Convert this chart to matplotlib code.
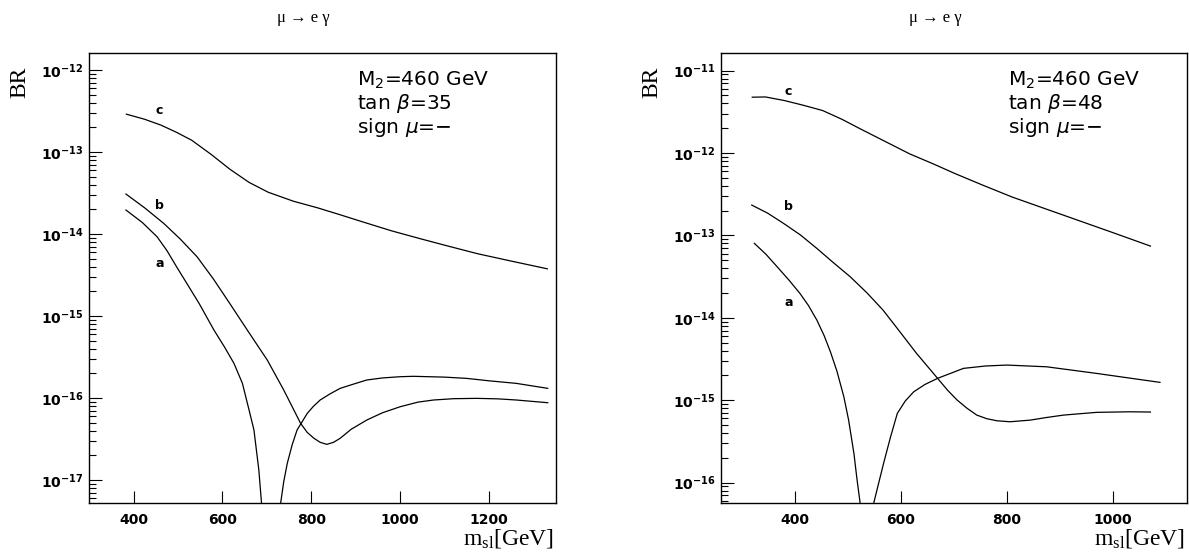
import numpy as np
import matplotlib
matplotlib.use('Agg')
import matplotlib.pyplot as plt
from matplotlib.ticker import LogLocator, NullLocator, NullFormatter, FuncFormatter, FixedLocator

plt.rcParams['mathtext.fontset'] = 'custom'
plt.rcParams['mathtext.rm'] = 'Liberation Serif'
plt.rcParams['mathtext.it'] = 'DejaVu Sans:italic'
plt.rcParams['mathtext.bf'] = 'DejaVu Sans:bold'
plt.rcParams['mathtext.sf'] = 'DejaVu Sans'

# values, as log10(BR)
# ---- left panel: tan beta = 35 ----
xc1 = [384, 425, 462, 497, 531, 575, 617, 660, 703, 760, 814, 865, 917, 980, 1046, 1110, 1175, 1250, 1331]
lc1 = [-12.538, -12.60, -12.672, -12.76, -12.856, -13.03, -13.21, -13.37, -13.49, -13.60, -13.68,
       -13.765, -13.854, -13.96, -14.058, -14.15, -14.241, -14.33, -14.424]

xb1 = [383, 425, 468, 505, 543, 580, 617, 656, 701, 738, 776, 791, 806, 820, 835, 850, 865, 890,
       925, 960, 1000, 1040, 1075, 1120, 1172, 1220, 1261, 1332]
lb1 = [-13.512, -13.68, -13.87, -14.06, -14.277, -14.55, -14.85, -15.171, -15.537, -15.902, -16.309,
       -16.42, -16.491, -16.54, -16.565, -16.54, -16.491, -16.38, -16.268, -16.18, -16.106, -16.05,
       -16.024, -16.008, -16.004, -16.01, -16.024, -16.057]

xa1_lo = [383, 420, 453, 475, 497, 522, 548, 581, 605, 626, 645, 660, 671, 682, 688, 692]
la1_lo = [-13.707, -13.86, -14.033, -14.2, -14.40, -14.62, -14.85, -15.171, -15.38, -15.577, -15.82,
          -16.146, -16.39, -16.878, -17.28, -18.0]
xa1_hi = [727, 731, 738, 746, 757, 768, 791, 805, 820, 842, 865, 895, 925, 960, 1000, 1030, 1100,
          1149, 1200, 1261, 1332]
la1_hi = [-18.0, -17.284, -17.02, -16.796, -16.57, -16.39, -16.187, -16.10, -16.024, -15.95, -15.882,
          -15.83, -15.78, -15.755, -15.74, -15.735, -15.745, -15.76, -15.79, -15.821, -15.882]

# ---- right panel: tan beta = 48 ----
xc2 = [319, 344, 380, 415, 452, 488, 523, 570, 616, 660, 702, 756, 810, 865, 917, 995, 1071]
lc2 = [-11.323, -11.32, -11.364, -11.42, -11.485, -11.59, -11.707, -11.86, -12.01, -12.13, -12.25,
       -12.395, -12.535, -12.66, -12.778, -12.955, -13.13]

xb2 = [318, 348, 378, 410, 441, 472, 504, 536, 566, 593, 629, 669, 688, 706, 725, 743, 762, 781,
       806, 844, 875, 907, 969, 1032, 1071]
lb2 = [-12.632, -12.73, -12.854, -12.995, -13.158, -13.33, -13.502, -13.70, -13.907, -14.13, -14.43,
       -14.735, -14.88, -14.999, -15.10, -15.181, -15.225, -15.25, -15.262, -15.242, -15.21, -15.181,
       -15.148, -15.141, -15.144]

xa2_lo = [323, 345, 366, 388, 409, 425, 441, 455, 467, 479, 492, 501, 511, 517, 523, 527]
la2_lo = [-13.097, -13.23, -13.381, -13.54, -13.704, -13.85, -14.028, -14.22, -14.42, -14.65, -14.959,
          -15.242, -15.646, -15.97, -16.26, -17.0]
xa2_hi = [545, 548, 558, 567, 580, 593, 608, 624, 645, 669, 718, 760, 800, 875, 969, 1089]
la2_hi = [-17.0, -16.26, -16.0, -15.767, -15.45, -15.16, -15.01, -14.898, -14.81, -14.735, -14.614,
          -14.585, -14.574, -14.595, -14.675, -14.784]

panels = [
    dict(pos=[0.0749, 0.0882, 0.3925, 0.8152], xlim=(300, 1350), ylim=(5.2e-18, 1.6e-12),
         xticks=[400, 600, 800, 1000, 1200], decades=range(-17, -11), tanb='35', tx=0.574,
         c=(xc1, lc1), b=(xb1, lb1), a=[(xa1_lo, la1_lo), (xa1_hi, la1_hi)],
         lab_x=458, lab_y={'c': 3.24e-13, 'b': 2.21e-14, 'a': 4.4e-15}),
    dict(pos=[0.6064, 0.0882, 0.3919, 0.8152], xlim=(260, 1140), ylim=(5.6e-17, 1.62e-11),
         xticks=[400, 600, 800, 1000], decades=range(-16, -10), tanb='48', tx=0.616,
         c=(xc2, lc2), b=(xb2, lb2), a=[(xa2_lo, la2_lo), (xa2_hi, la2_hi)],
         lab_x=387, lab_y={'c': 5.53e-12, 'b': 2.22e-13, 'a': 1.52e-14}),
]

fig = plt.figure(figsize=(11.89, 5.52), dpi=100)


def fmt(v, pos):
    e = int(round(np.log10(v)))
    return r'$\mathbf{10^{%d}}$' % e


for p in panels:
    ax = fig.add_axes(p['pos'])
    ax.set_yscale('log')
    kw = dict(color='black', lw=0.9)
    curves = [p['c'], p['b']] + p['a']
    for xs, ls in curves:
        ax.plot(xs, 10.0 ** np.array(ls), **kw)
    ax.set_xlim(*p['xlim'])
    ax.set_ylim(*p['ylim'])

    ax.xaxis.set_major_locator(FixedLocator(p['xticks']))
    ax.xaxis.set_minor_locator(NullLocator())
    ax.yaxis.set_major_locator(FixedLocator([10.0 ** d for d in p['decades']]))
    ax.yaxis.set_minor_locator(LogLocator(base=10, subs=np.arange(2, 10), numticks=100))
    ax.yaxis.set_major_formatter(FuncFormatter(fmt))
    ax.yaxis.set_minor_formatter(NullFormatter())
    ax.tick_params(which='both', direction='in', top=False, right=False, width=0.8)
    ax.tick_params(which='major', length=9)
    ax.tick_params(which='minor', length=5)
    ax.tick_params(axis='y', pad=4, labelsize=10)
    ax.tick_params(axis='x', pad=7, labelsize=10)
    for t in ax.get_xticklabels():
        t.set_fontweight('bold')
    for s in ax.spines.values():
        s.set_linewidth(1.0)

    for k, yv in p['lab_y'].items():
        ax.text(p['lab_x'], yv, k, ha='center', va='center', fontsize=9,
                fontweight='bold', family='DejaVu Sans')

    lines = [r'M$_\mathsf{2}$=460 GeV', r'tan $\beta$=' + p['tanb'], r'sign $\mu$=−']
    for ty, s in zip([0.927, 0.876, 0.824], lines):
        ax.text(p['tx'], ty, s, transform=ax.transAxes, ha='left', va='baseline',
                fontsize=14.5, family='DejaVu Sans')

    x0, w = p['pos'][0], p['pos'][2]
    fig.text(x0 + w / 2 - 19 / 1189, 1 - 18 / 552, 'μ → e γ', ha='center', va='center',
             fontsize=12, family=['Liberation Serif', 'DejaVu Serif'])
    fig.text(x0 - 69 / 1189, 1 - 82 / 552, 'BR', rotation=90, ha='center', va='center',
             fontsize=17, family='Liberation Serif')
    fig.text(x0 + w - 2 / 1189, 1 - 545 / 552, r'$\mathrm{m_{sl}[GeV]}$', ha='right',
             va='baseline', fontsize=17)

fig.savefig('out.png', dpi=100)
